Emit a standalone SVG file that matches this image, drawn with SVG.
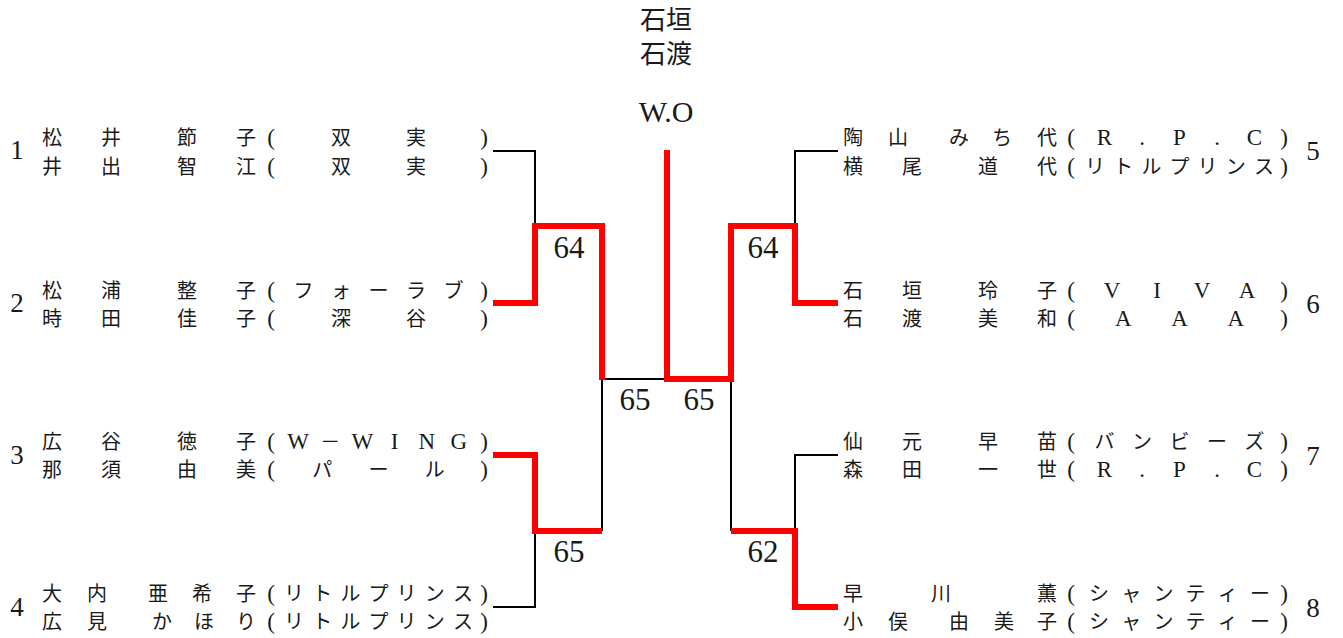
<svg xmlns="http://www.w3.org/2000/svg" width="1343" height="638" viewBox="0 0 1343 638">
<style>
text { fill: #1a1a1a; text-anchor: middle; }
.cjk { font-family: "Noto Sans CJK JP", sans-serif; font-size: 20px; }
.lat { font-family: "Liberation Serif", serif; font-size: 23px; }
.br { font-family: "Liberation Serif", serif; font-size: 23px; }
.num { font-family: "Liberation Serif", serif; font-size: 27px; }
.score { font-family: "Liberation Serif", serif; font-size: 31px; }
.top { font-family: "Noto Sans CJK JP", sans-serif; font-size: 26px; }
.wo { font-family: "Liberation Serif", serif; font-size: 30px; }
.blk { fill: none; stroke: #000; stroke-width: 2; }
.red { fill: none; stroke: #ff0000; stroke-width: 6; stroke-linejoin: miter; }
</style>

<g id="connectors">
  <path class="blk" d="M493,151 H535 V226"/>
  <path class="blk" d="M493,607 H535 V531"/>
  <path class="blk" d="M602,531 V379 H667"/>
  <path class="blk" d="M731,379 V531"/>
  <path class="blk" d="M838,151 H795 V226"/>
  <path class="blk" d="M838,455 H795 V531"/>
  <path class="red" d="M493,303 H535 V226 H602 V380"/>
  <path class="red" d="M493,455 H535 V531 H602"/>
  <path class="red" d="M667,150 V379 H731 V226 H795 V303 H838"/>
  <path class="red" d="M731,531 H795 V607 H838"/>
</g>

<g id="scores">
  <text class="score" x="569" y="258">64</text>
  <text class="score" x="763" y="258">64</text>
  <text class="score" x="635" y="410">65</text>
  <text class="score" x="699" y="410">65</text>
  <text class="score" x="569" y="562">65</text>
  <text class="score" x="763" y="562">62</text>
</g>

<g id="final">
  <text class="top"><tspan x="666" y="29">石垣</tspan><tspan x="666" y="63">石渡</tspan></text>
  <text class="wo" x="666" y="122">W.O</text>
</g>

<g id="entry-1">
  <text class="num" x="17" y="159">1</text>
  <text class="cjk"><tspan x="52 111 187 246" y="145">松井節子</tspan><tspan x="52 111 187 246" y="174">井出智江</tspan></text>
  <text class="br"><tspan x="271" y="145">(</tspan><tspan x="271" y="174">(</tspan></text>
  <text class="cjk"><tspan x="341 416" y="145">双実</tspan><tspan x="341 416" y="174">双実</tspan></text>
  <text class="br"><tspan x="484" y="145">)</tspan><tspan x="484" y="174">)</tspan></text>
</g>

<g id="entry-2">
  <text class="num" x="17" y="312">2</text>
  <text class="cjk"><tspan x="52 111 187 246" y="298">松浦整子</tspan><tspan x="52 111 187 246" y="326">時田佳子</tspan></text>
  <text class="br"><tspan x="271" y="298">(</tspan><tspan x="271" y="326">(</tspan></text>
  <text class="cjk"><tspan x="303.5 341 378.5 416 453.5" y="298">フォーラブ</tspan><tspan x="341 416" y="326">深谷</tspan></text>
  <text class="br"><tspan x="484" y="298">)</tspan><tspan x="484" y="326">)</tspan></text>
</g>

<g id="entry-3">
  <text class="num" x="17" y="464">3</text>
  <text class="cjk"><tspan x="52 111 187 246" y="449">広谷徳子</tspan><tspan x="52 111 187 246" y="477">那須由美</tspan></text>
  <text class="br"><tspan x="271" y="449">(</tspan><tspan x="271" y="477">(</tspan></text>
  <text class="cjk"><tspan class="lat" x="298.1" y="449">W</tspan><tspan x="330.3" y="449">－</tspan><tspan class="lat" x="362.4 394.6 426.7 458.9" y="449">WING</tspan><tspan x="322.25 378.5 434.75" y="477">パール</tspan></text>
  <text class="br"><tspan x="484" y="449">)</tspan><tspan x="484" y="477">)</tspan></text>
</g>

<g id="entry-4">
  <text class="num" x="17" y="616">4</text>
  <text class="cjk"><tspan x="52 97 158 202 246" y="601">大内亜希子</tspan><tspan x="52 97 162 204 246" y="629">広見かほり</tspan></text>
  <text class="br"><tspan x="271" y="601">(</tspan><tspan x="271" y="629">(</tspan></text>
  <text class="cjk"><tspan x="294.1 322.3 350.4 378.5 406.6 434.8 462.9" y="601">リトルプリンス</tspan><tspan x="294.1 322.3 350.4 378.5 406.6 434.8 462.9" y="629">リトルプリンス</tspan></text>
  <text class="br"><tspan x="484" y="601">)</tspan><tspan x="484" y="629">)</tspan></text>
</g>

<g id="entry-5">
  <text class="num" x="1313" y="160">5</text>
  <text class="cjk"><tspan x="853 898 959 1002 1047" y="145">陶山みち代</tspan><tspan x="853 912 988 1047" y="174">横尾道代</tspan></text>
  <text class="br"><tspan x="1071" y="145">(</tspan><tspan x="1071" y="174">(</tspan></text>
  <text class="cjk"><tspan class="lat" x="1104.5 1142 1179.5 1217 1254.5" y="145">R.P.C</tspan><tspan x="1095.1 1123.3 1151.4 1179.5 1207.6 1235.8 1263.9" y="174">リトルプリンス</tspan></text>
  <text class="br"><tspan x="1284" y="145">)</tspan><tspan x="1284" y="174">)</tspan></text>
</g>

<g id="entry-6">
  <text class="num" x="1313" y="313">6</text>
  <text class="cjk"><tspan x="853 912 988 1047" y="298">石垣玲子</tspan><tspan x="853 912 988 1047" y="326">石渡美和</tspan></text>
  <text class="br"><tspan x="1071" y="298">(</tspan><tspan x="1071" y="326">(</tspan></text>
  <text class="lat"><tspan x="1112 1157 1202 1247" y="298">VIVA</tspan><tspan x="1123.25 1179.5 1235.75" y="326">AAA</tspan></text>
  <text class="br"><tspan x="1284" y="298">)</tspan><tspan x="1284" y="326">)</tspan></text>
</g>

<g id="entry-7">
  <text class="num" x="1313" y="465">7</text>
  <text class="cjk"><tspan x="853 912 988 1047" y="449">仙元早苗</tspan><tspan x="853 912 988 1047" y="477">森田一世</tspan></text>
  <text class="br"><tspan x="1071" y="449">(</tspan><tspan x="1071" y="477">(</tspan></text>
  <text class="cjk"><tspan x="1104.5 1142 1179.5 1217 1254.5" y="449">バンビーズ</tspan><tspan class="lat" x="1104.5 1142 1179.5 1217 1254.5" y="477">R.P.C</tspan></text>
  <text class="br"><tspan x="1284" y="449">)</tspan><tspan x="1284" y="477">)</tspan></text>
</g>

<g id="entry-8">
  <text class="num" x="1313" y="617">8</text>
  <text class="cjk"><tspan x="853 941 1047" y="601">早川薫</tspan><tspan x="853 898 959 1004 1047" y="629">小俣由美子</tspan></text>
  <text class="br"><tspan x="1071" y="601">(</tspan><tspan x="1071" y="629">(</tspan></text>
  <text class="cjk"><tspan x="1099.1 1131.3 1163.4 1195.6 1227.7 1259.9" y="601">シャンティー</tspan><tspan x="1099.1 1131.3 1163.4 1195.6 1227.7 1259.9" y="629">シャンティー</tspan></text>
  <text class="br"><tspan x="1284" y="601">)</tspan><tspan x="1284" y="629">)</tspan></text>
</g>
</svg>
